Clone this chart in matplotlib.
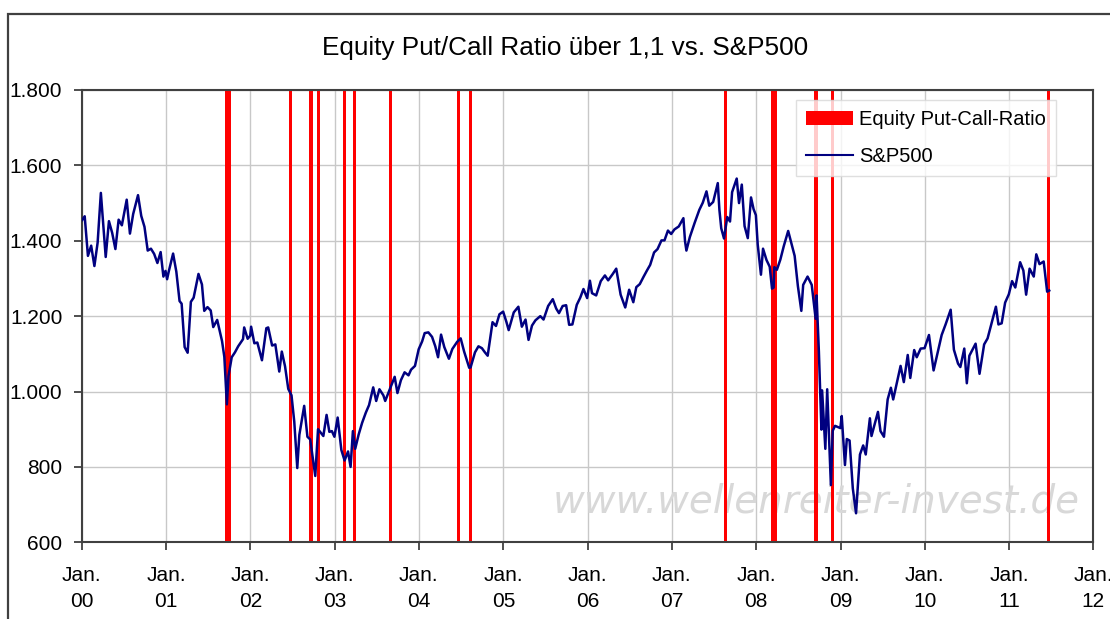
import matplotlib
matplotlib.use("Agg")
import matplotlib.pyplot as plt
import matplotlib.dates as mdates
from matplotlib.patches import Rectangle, Patch
from matplotlib.lines import Line2D
import numpy as np

plt.rcParams['font.family'] = ['Liberation Sans', 'DejaVu Sans']

title = "Equity Put/Call Ratio über 1,1 vs. S&P500"
legend_labels = ["Equity Put-Call-Ratio", "S&P500"]
watermark = "www.wellenreiter-invest.de"

# Days with equity put/call ratio above 1.1
pcr_dates = ["2001-09-21", "2001-09-29", "2002-06-24", "2002-09-19", "2002-10-23",
             "2003-02-13", "2003-03-28", "2003-08-31", "2004-06-21", "2004-08-12",
             "2007-08-21", "2008-03-14", "2008-03-24", "2008-09-18", "2008-11-27",
             "2011-06-21"]

# S&P 500
spx_dates = [
 "2000-01-03","2000-01-14","2000-01-28","2000-02-11","2000-02-25","2000-03-10","2000-03-24","2000-04-14",
 "2000-04-28","2000-05-12","2000-05-26","2000-06-09","2000-06-23","2000-07-14","2000-07-28","2000-08-11",
 "2000-09-01","2000-09-15","2000-09-29","2000-10-13","2000-10-27","2000-11-10","2000-11-24","2000-12-08",
 "2000-12-20","2000-12-29",
 "2001-01-05","2001-01-12","2001-01-31","2001-02-14","2001-02-28","2001-03-09","2001-03-22","2001-04-04",
 "2001-04-18","2001-04-30","2001-05-21","2001-06-05","2001-06-15","2001-06-29","2001-07-13","2001-07-24",
 "2001-08-10","2001-08-31","2001-09-10","2001-09-21","2001-09-28","2001-10-12","2001-10-26","2001-11-09",
 "2001-11-30","2001-12-05","2001-12-20","2001-12-31",
 "2002-01-04","2002-01-18","2002-01-31","2002-02-20","2002-03-11","2002-03-19","2002-04-05","2002-04-19",
 "2002-05-06","2002-05-17","2002-05-31","2002-06-14","2002-06-28","2002-07-10","2002-07-23","2002-08-01",
 "2002-08-22","2002-09-05","2002-09-17","2002-10-09","2002-10-21","2002-11-13","2002-11-27","2002-12-09",
 "2002-12-20","2002-12-31",
 "2003-01-14","2003-01-30","2003-02-13","2003-02-28","2003-03-11","2003-03-21","2003-03-31","2003-04-15",
 "2003-04-30","2003-05-16","2003-05-30","2003-06-17","2003-06-30","2003-07-14","2003-07-31","2003-08-08",
 "2003-08-29","2003-09-18","2003-09-30","2003-10-15","2003-10-31","2003-11-17","2003-11-28","2003-12-15",
 "2003-12-31",
 "2004-01-15","2004-01-26","2004-02-11","2004-02-27","2004-03-12","2004-03-24","2004-04-06","2004-04-20",
 "2004-05-10","2004-05-25","2004-06-15","2004-06-30","2004-07-15","2004-08-06","2004-08-12","2004-08-31",
 "2004-09-15","2004-09-30","2004-10-13","2004-10-25","2004-11-15","2004-11-30","2004-12-15","2004-12-31",
 "2005-01-14","2005-01-24","2005-02-15","2005-03-07","2005-03-22","2005-04-07","2005-04-20","2005-05-05",
 "2005-05-20","2005-06-10","2005-06-24","2005-07-14","2005-08-03","2005-08-18","2005-08-30","2005-09-15",
 "2005-09-30","2005-10-13","2005-10-27","2005-11-15","2005-11-30","2005-12-14","2005-12-30",
 "2006-01-11","2006-01-20","2006-02-07","2006-02-27","2006-03-17","2006-03-31","2006-04-20","2006-05-05",
 "2006-05-24","2006-06-13","2006-06-30","2006-07-18","2006-07-31","2006-08-15","2006-08-31","2006-09-15",
 "2006-09-29","2006-10-16","2006-10-31","2006-11-17","2006-11-30","2006-12-15","2006-12-29",
 "2007-01-12","2007-01-31","2007-02-20","2007-02-27","2007-03-05","2007-03-20","2007-04-10","2007-04-30",
 "2007-05-15","2007-05-31","2007-06-12","2007-06-29","2007-07-19","2007-07-26","2007-08-03","2007-08-15",
 "2007-08-29","2007-09-10","2007-09-19","2007-10-09","2007-10-19","2007-10-31","2007-11-12","2007-11-26",
 "2007-12-10","2007-12-21","2007-12-31",
 "2008-01-08","2008-01-22","2008-01-31","2008-02-15","2008-02-29","2008-03-10","2008-03-17","2008-03-20",
 "2008-03-31","2008-04-15","2008-04-30","2008-05-19","2008-05-30","2008-06-16","2008-06-30","2008-07-15",
 "2008-07-23","2008-08-11","2008-08-29","2008-09-15","2008-09-19","2008-09-29","2008-10-10","2008-10-13",
 "2008-10-27","2008-11-04","2008-11-20","2008-11-28","2008-12-08","2008-12-31",
 "2009-01-06","2009-01-20","2009-01-28","2009-02-09","2009-02-23","2009-03-09","2009-03-26","2009-04-09",
 "2009-04-20","2009-05-08","2009-05-15","2009-06-12","2009-06-23","2009-07-08","2009-07-24","2009-08-07",
 "2009-08-17","2009-09-18","2009-10-02","2009-10-19","2009-10-30","2009-11-16","2009-11-27","2009-12-14",
 "2009-12-31",
 "2010-01-19","2010-02-08","2010-02-25","2010-03-15","2010-04-01","2010-04-23","2010-05-07","2010-05-25",
 "2010-06-04","2010-06-21","2010-07-02","2010-07-13","2010-08-09","2010-08-26","2010-09-15","2010-09-30",
 "2010-10-15","2010-11-05","2010-11-16","2010-11-30","2010-12-15","2010-12-31",
 "2011-01-14","2011-01-28","2011-02-18","2011-03-04","2011-03-16","2011-03-31","2011-04-18","2011-04-29",
 "2011-05-13","2011-05-31","2011-06-15","2011-06-24"]

spx_values = [
 1455,1465,1360,1387,1333,1395,1527,1357,
 1452,1421,1378,1456,1441,1509,1419,1471,
 1521,1466,1437,1374,1379,1365,1341,1370,
 1305,1320,
 1298,1318,1366,1318,1240,1233,1118,1103,
 1238,1249,1312,1284,1214,1224,1215,1171,
 1190,1134,1092,966,1041,1091,1104,1120,
 1139,1170,1140,1148,
 1172,1128,1130,1083,1168,1170,1122,1125,
 1053,1106,1067,1007,990,920,797,885,
 962,880,873,776,900,882,938,893,
 895,880,
 931,845,817,841,800,895,848,886,
 917,944,964,1011,975,1006,990,975,
 1008,1039,996,1030,1051,1043,1058,1068,
 1112,
 1133,1155,1157,1145,1120,1091,1151,1118,
 1087,1113,1132,1141,1106,1063,1064,1104,
 1120,1115,1104,1095,1184,1174,1205,1212,
 1185,1163,1210,1225,1172,1191,1137,1175,
 1189,1200,1191,1227,1245,1220,1208,1227,
 1229,1177,1178,1230,1249,1272,1248,
 1294,1261,1255,1293,1308,1295,1312,1326,
 1257,1223,1270,1237,1277,1285,1304,1321,
 1336,1369,1378,1401,1401,1427,1418,
 1430,1438,1460,1399,1374,1410,1448,1482,
 1501,1531,1493,1503,1553,1482,1433,1406,
 1463,1451,1529,1565,1500,1549,1439,1407,
 1515,1484,1468,
 1390,1310,1379,1349,1331,1273,1276,1330,
 1323,1350,1386,1426,1400,1360,1280,1214,
 1283,1305,1283,1193,1255,1106,899,1003,
 848,1006,752,896,909,903,
 935,805,874,870,743,677,833,857,
 833,929,882,946,895,880,979,1010,
 979,1068,1025,1097,1036,1110,1091,1114,
 1115,
 1150,1056,1102,1150,1178,1217,1111,1074,
 1065,1114,1022,1095,1127,1047,1125,1141,
 1176,1225,1178,1181,1236,1258,
 1293,1276,1343,1321,1257,1326,1305,1364,
 1338,1345,1265,1268]

year_ticks = list(range(2000, 2013))
y_ticks = [600, 800, 1000, 1200, 1400, 1600, 1800]
y_tick_labels = ["600", "800", "1.000", "1.200", "1.400", "1.600", "1.800"]

W, H = 1110, 619
fig = plt.figure(figsize=(W / 100, H / 100), dpi=100)
fig.patch.set_facecolor('white')

# outer chart frame
fig.patches.append(Rectangle((8 / W, -0.1), 1.2, 1 - 14 / H + 0.1, transform=fig.transFigure,
                             fill=False, edgecolor='#404040', linewidth=1.6, zorder=0))

left, right, top, bottom = 81.7, 1093.3, 90, 542.3
ax = fig.add_axes([left / W, 1 - bottom / H, (right - left) / W, (bottom - top) / H])

sx = mdates.date2num([np.datetime64(d) for d in spx_dates])
px = mdates.date2num([np.datetime64(d) for d in pcr_dates])
xt = mdates.date2num([np.datetime64(f"{y}-01-01") for y in year_ticks])

ax.set_xlim(xt[0], xt[-1])
ax.set_ylim(600, 1800)

# background axis: grid, watermark, put/call bars
ax2 = ax.twinx()
ax2.set_ylim(0, 1)
ax2.axis('off')
ax2.patch.set_visible(True)
ax2.patch.set_facecolor('white')
for y in y_ticks:
    ax2.axhline((y - 600) / 1200, color='#c8c8c8', linewidth=1.0, zorder=1)
for x in xt:
    ax2.axvline(x, color='#c8c8c8', linewidth=1.0, zorder=1)
ax2.text(0.987, 0.065, watermark, transform=ax2.transAxes, ha='right', va='baseline',
         fontsize=28, style='italic', family='DejaVu Sans', color='#d8d8d8', zorder=1.5)
ax2.bar(px, [1] * len(px), width=16, color='#ff0000', align='center', zorder=2)

ax.set_zorder(ax2.get_zorder() + 1)
ax.patch.set_visible(False)

ax.plot(sx, spx_values, color='#000080', linewidth=1.8, zorder=3)

ax.set_xticks(xt)
ax.set_xticklabels([f"Jan.\n{y % 100:02d}" for y in year_ticks], fontsize=15, linespacing=1.45)
ax.set_yticks(y_ticks)
ax.set_yticklabels(y_tick_labels, fontsize=15)
ax.tick_params(axis='x', direction='out', length=6, width=1.2, color='#303030', pad=11)
ax.tick_params(axis='y', direction='out', length=6, width=1.2, color='#303030', pad=8)
ax.grid(False)
for s in ax.spines.values():
    s.set_color('#404040')
    s.set_linewidth(1.5)

fig.text(565 / W, 1 - 55 / H, title, ha='center', va='baseline', fontsize=18.8, color='#000000')

handles = [Patch(facecolor='#ff0000', edgecolor='none'),
           Line2D([0], [0], color='#000080', linewidth=1.5)]
leg = ax.legend(handles, legend_labels, loc='upper left',
                bbox_to_anchor=((796 - left) / (right - left), 1 - (100 - top) / (bottom - top)),
                fontsize=14.5, frameon=True, fancybox=False, borderaxespad=0,
                handlelength=2.35, handletextpad=0.3, borderpad=0.5, labelspacing=0.9)
leg.get_frame().set_edgecolor('#d8d8d8')
leg.get_frame().set_linewidth(1.0)

fig.savefig("out.png", dpi=100)
